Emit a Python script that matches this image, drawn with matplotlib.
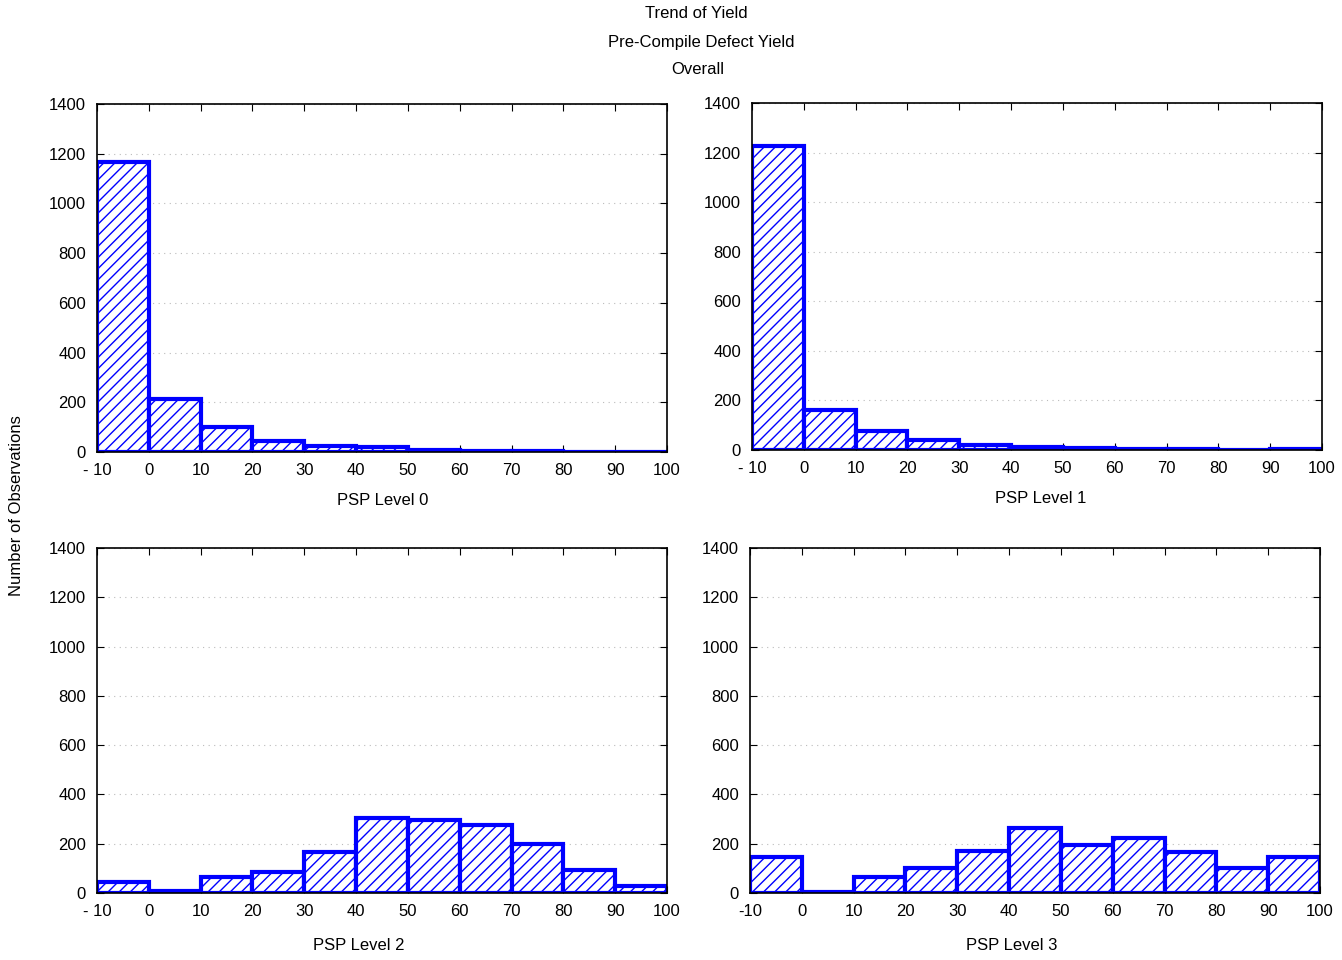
import matplotlib
matplotlib.use("Agg")
import matplotlib.pyplot as plt
import numpy as np

plt.rcParams['font.family'] = ['Liberation Sans', 'DejaVu Sans']
edges = [-10, 0, 10, 20, 30, 40, 50, 60, 70, 80, 90, 100]
tick_labels = ['- 10', '0', '10', '20', '30', '40', '50', '60', '70', '80', '90', '100']
level0 = [1165, 215, 100, 45, 25, 20, 8, 5, 3, 2, 2]
level1 = [1225, 160, 75, 40, 22, 12, 8, 5, 3, 2, 3]
level2 = [45, 10, 65, 85, 165, 305, 295, 275, 200, 95, 30]
level3 = [145, 5, 65, 100, 170, 265, 195, 225, 165, 100, 145]
titles = ['PSP Level 0', 'PSP Level 1', 'PSP Level 2', 'PSP Level 3']

W, H = 1342, 960
fig = plt.figure(figsize=(W/100, H/100), dpi=100)
boxes = [(97, 104, 667, 452), (752, 103, 1322, 450), (97, 548, 667, 893), (750, 548, 1320, 893)]
xlab_x = [383, 1041, 359, 1012]
xlab_y = [500, 498, 946, 946]
plt.rcParams['hatch.color'] = 'blue'
plt.rcParams['hatch.linewidth'] = 1.0
for i, (data, t, b) in enumerate(zip([level0, level1, level2, level3], titles, boxes)):
    x0, y0, x1, y1 = b
    ax = fig.add_axes([x0/W, 1-y1/H, (x1-x0)/W, (y1-y0)/H])
    ax.bar(edges[:-1], data, width=10, align='edge', facecolor='white',
           edgecolor='blue', linewidth=3, hatch='///')
    ax.set_xlim(-10, 100)
    ax.set_ylim(0, 1400)
    ax.set_yticks(range(0, 1401, 200))
    ax.set_xticks(edges)
    labs = list(tick_labels)
    if i == 3:
        labs[0] = '-10'
    ax.set_xticklabels(labs)
    ax.tick_params(direction='in', top=True, right=True, labelsize=12, length=5)
    ax.tick_params(axis='x', pad=8)
    ax.tick_params(axis='y', pad=8)
    ax.yaxis.grid(True, linestyle=(0, (1, 4)), color='#bbbbbb', linewidth=0.8)
    ax.set_axisbelow(True)
    for s in ax.spines.values():
        s.set_linewidth(1.2)
    fig.text(xlab_x[i]/W, 1-xlab_y[i]/H, t, ha='center', va='center', fontsize=12)

fig.text(696/W, 1-14/H, 'Trend of Yield', ha='center', va='center', fontsize=12)
fig.text(701/W, 1-42/H, 'Pre-Compile Defect Yield', ha='center', va='center', fontsize=12)
fig.text(698/W, 1-69/H, 'Overall', ha='center', va='center', fontsize=12)
fig.text(17/W, 1-506/H, 'Number of Observations', rotation=90, ha='center', va='center', fontsize=12)
fig.savefig('out.png', dpi=100)
